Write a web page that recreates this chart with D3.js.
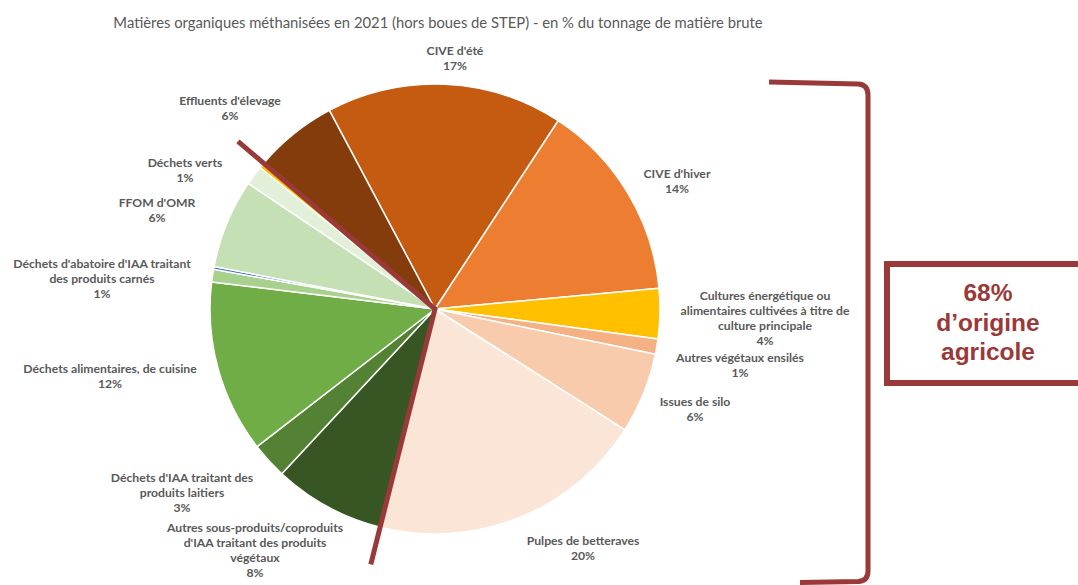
<!DOCTYPE html>
<html lang="fr">
<head>
<meta charset="utf-8">
<script src="https://cdn.jsdelivr.net/npm/d3@7"></script>
<style>
  html, body { margin: 0; padding: 0; background: #fff; }
  svg { display: block; }
</style>
</head>
<body>
<svg id="chart" width="1078" height="585"></svg>
<script>
// Tonnage shares (%) of methanised organic matter, clockwise from the "CIVE d'été" slice
const categories = [
  "CIVE d'été",
  "CIVE d'hiver",
  "Cultures énergétique ou alimentaires cultivées à titre de culture principale",
  "Autres végétaux ensilés",
  "Issues de silo",
  "Pulpes de betteraves",
  "Autres sous-produits/coproduits d'IAA traitant des produits végétaux",
  "Déchets d'IAA traitant des produits laitiers",
  "Déchets alimentaires, de cuisine",
  "Déchets d'abatoire d'IAA traitant des produits carnés",
  "Autres déchets",
  "FFOM d'OMR",
  "Déchets verts",
  "Autres",
  "Effluents d'élevage"
];
const shares = [17.0, 14.3, 3.6, 1.1, 5.8, 19.9, 8.0, 2.6, 12.4, 0.9, 0.2, 6.4, 1.4, 0.4, 6.0];

// Slices that make up the agricultural share
const agricultural = ["CIVE d'été", "CIVE d'hiver",
  "Cultures énergétique ou alimentaires cultivées à titre de culture principale",
  "Autres végétaux ensilés", "Issues de silo", "Pulpes de betteraves", "Effluents d'élevage"];

const titleText = "Matières organiques méthanisées en 2021 (hors boues de STEP) - en % du tonnage de matière brute";

// Slice fills, same order as categories
const fills = ["#C55A11", "#ED7D31", "#FFC000", "#F4B183", "#F8CBAD", "#FBE5D6",
  "#375623", "#548235", "#70AD47", "#A9D18E", "#4472C4", "#C5E0B4", "#E2F0D9",
  "#FFC000", "#843C0C"];

// Label placement: centre x, first-line y, and line breaks (null = no label)
const labelLayout = [
  { x: 455, y: 50, lines: ["CIVE d'été"] },
  { x: 677, y: 173, lines: ["CIVE d'hiver"] },
  { x: 765, y: 295, lines: ["Cultures énergétique ou", "alimentaires cultivées à titre de", "culture principale"] },
  { x: 740, y: 357, lines: ["Autres végétaux ensilés"] },
  { x: 695, y: 401, lines: ["Issues de silo"] },
  { x: 583, y: 540, lines: ["Pulpes de betteraves"] },
  { x: 255, y: 527, lines: ["Autres sous-produits/coproduits", "d'IAA traitant des produits", "végétaux"] },
  { x: 182, y: 477, lines: ["Déchets d'IAA traitant des", "produits laitiers"] },
  { x: 110, y: 368, lines: ["Déchets alimentaires, de cuisine"] },
  { x: 102, y: 263, lines: ["Déchets d'abatoire d'IAA traitant", "des produits carnés"] },
  null,
  { x: 157, y: 202, lines: ["FFOM d'OMR"] },
  { x: 185, y: 162, lines: ["Déchets verts"] },
  null,
  { x: 230, y: 100, lines: ["Effluents d'élevage"] }
];

const svg = d3.select("#chart");
const cx = 435, cy = 309, R = 225;
const accent = "#9A3A38";
const textGrey = "#595959";
const deg = Math.PI / 180;

svg.append("text")
  .attr("x", 438).attr("y", 22)
  .attr("text-anchor", "middle").attr("dominant-baseline", "central")
  .style("font-family", "Lato, 'Open Sans', sans-serif")
  .style("font-size", "14.8px")
  .style("fill", textGrey)
  .text(titleText);

const data = categories.map((c, i) => ({ name: c, value: shares[i], i }));

const pie = d3.pie()
  .value(d => d.value)
  .sort(null)
  .startAngle(-28 * deg)
  .endAngle(332 * deg);

const arcs = pie(data);
const arc = d3.arc().innerRadius(0).outerRadius(R);

const g = svg.append("g").attr("transform", `translate(${cx},${cy})`);

g.selectAll("path.slice")
  .data(arcs)
  .join("path")
  .attr("class", "slice")
  .attr("d", arc)
  .attr("fill", d => fills[d.data.i])
  .attr("stroke", "#fff")
  .attr("stroke-width", 1.5)
  .attr("stroke-linejoin", "round");

// Data labels: name lines followed by the rounded percentage
const lineH = 15.3;
arcs.forEach(a => {
  const lay = labelLayout[a.data.i];
  if (!lay) return;
  const lines = lay.lines.concat([Math.round(a.data.value) + "%"]);
  const t = svg.append("text")
    .attr("text-anchor", "middle")
    .style("font-family", "Lato, 'Open Sans', sans-serif")
    .style("font-weight", "bold")
    .style("font-size", "12.2px")
    .style("fill", textGrey);
  lines.forEach((ln, k) => {
    t.append("tspan")
      .attr("x", lay.x)
      .attr("y", lay.y + k * lineH)
      .attr("dominant-baseline", "central")
      .text(ln);
  });
});

// V-shaped divider following the edges of the agricultural block
const agriArcs = arcs.filter(a => agricultural.includes(a.data.name));
const effl = arcs.find(a => a.data.name === "Effluents d'élevage");
const pulpes = arcs.find(a => a.data.name === "Pulpes de betteraves");
const pt = (ang, r) => [cx + r * Math.sin(ang), cy - r * Math.cos(ang)];
const p1 = pt(effl.startAngle, 1.15 * R);
const p2 = pt(pulpes.endAngle, 1.17 * R);
svg.append("path")
  .attr("d", d3.line()([p1, [cx, cy], p2]))
  .attr("fill", "none")
  .attr("stroke", accent)
  .attr("stroke-width", 5)
  .attr("stroke-linejoin", "miter");

// Right-hand bracket grouping the agricultural slices
const bracket = d3.path();
bracket.moveTo(769, 82);
bracket.lineTo(858, 84);
bracket.quadraticCurveTo(868, 84.5, 868, 95);
bracket.lineTo(868, 571);
bracket.quadraticCurveTo(868, 581, 858, 581.5);
bracket.lineTo(800, 582.5);
svg.append("path")
  .attr("d", bracket.toString())
  .attr("fill", "none")
  .attr("stroke", accent)
  .attr("stroke-width", 5)
  .attr("stroke-linecap", "butt");

// Summary box
const agriTotal = d3.sum(agriArcs, a => a.data.value);
svg.append("rect")
  .attr("x", 887).attr("y", 264)
  .attr("width", 220).attr("height", 119)
  .attr("fill", "#fff")
  .attr("stroke", accent)
  .attr("stroke-width", 6);

const boxText = [Math.round(agriTotal) + "%", "d’origine", "agricole"];
const boxY = [292, 322, 351];
boxText.forEach((s, k) => {
  svg.append("text")
    .attr("x", 988).attr("y", boxY[k])
    .attr("text-anchor", "middle").attr("dominant-baseline", "central")
    .style("font-family", "'Liberation Sans', Arial, sans-serif")
    .style("font-weight", "bold")
    .style("font-size", "24.5px")
    .style("fill", accent)
    .text(s);
});
</script>
</body>
</html>
